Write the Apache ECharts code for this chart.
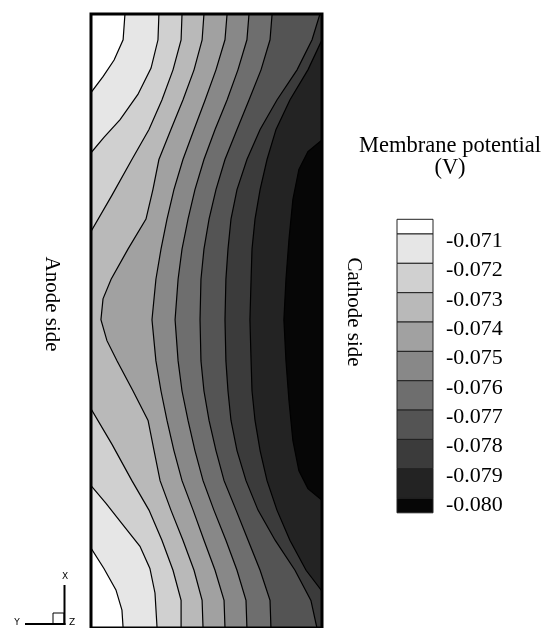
<!DOCTYPE html>
<html>
<head>
<meta charset="utf-8">
<title>Membrane potential</title>
<script src="https://cdn.jsdelivr.net/npm/echarts@6.0.0/dist/echarts.min.js"></script>
<style>
  html, body { margin: 0; padding: 0; background: #fff; }
  #main { width: 543px; height: 628px; }
</style>
</head>
<body>
<div id="main"></div>
<script>
// contour levels (V) and legend labels
var levels = [-0.071, -0.072, -0.073, -0.074, -0.075, -0.076, -0.077, -0.078, -0.079, -0.080];
var levelLabels = ['-0.071', '-0.072', '-0.073', '-0.074', '-0.075', '-0.076', '-0.077', '-0.078', '-0.079', '-0.080'];
// flood colours, from above -0.071 down to below -0.080
var bandColors = ['#ffffff', '#e6e6e6', '#d0d0d0', '#b9b9b9', '#a1a1a1', '#888888',
                  '#6e6e6e', '#545454', '#3b3b3b', '#232323', '#060606'];

// contour lines, points are [across (anode 0 -> cathode 1), along (bottom 0 -> top 1)]
var line071 = [[0.147, 1.000], [0.139, 0.958], [0.100, 0.925], [0.052, 0.898], [0.000, 0.872],
               [0.000, 0.130], [0.056, 0.097], [0.108, 0.062], [0.134, 0.029], [0.139, 0.000]];
var line072 = [[0.294, 1.000], [0.290, 0.958], [0.260, 0.912], [0.203, 0.869], [0.126, 0.828], [0.056, 0.799], [0.000, 0.774],
               [0.000, 0.232], [0.065, 0.203], [0.134, 0.170], [0.212, 0.133], [0.255, 0.097], [0.277, 0.057], [0.286, 0.000]];
var line073 = [[0.394, 1.000], [0.390, 0.958], [0.355, 0.909], [0.307, 0.860], [0.251, 0.812], [0.177, 0.763], [0.091, 0.705], [0.000, 0.646],
               [0.000, 0.357], [0.091, 0.299], [0.177, 0.240], [0.251, 0.192], [0.307, 0.143], [0.355, 0.094], [0.390, 0.045], [0.390, 0.000]];
var line074 = [[0.489, 1.000], [0.481, 0.958], [0.446, 0.909], [0.398, 0.860], [0.346, 0.812], [0.294, 0.763], [0.268, 0.714], [0.238, 0.666],
               [0.160, 0.617], [0.087, 0.568], [0.052, 0.536], [0.043, 0.502], [0.069, 0.468], [0.113, 0.435], [0.182, 0.386], [0.247, 0.338],
               [0.273, 0.289], [0.299, 0.240], [0.346, 0.192], [0.398, 0.143], [0.446, 0.094], [0.481, 0.045], [0.485, 0.000]];
var line075 = [[0.589, 1.000], [0.580, 0.958], [0.541, 0.909], [0.494, 0.860], [0.446, 0.812], [0.398, 0.763], [0.359, 0.714], [0.329, 0.666],
               [0.303, 0.617], [0.281, 0.568], [0.264, 0.502], [0.281, 0.435], [0.303, 0.386], [0.329, 0.338], [0.359, 0.289], [0.394, 0.240],
               [0.442, 0.192], [0.489, 0.143], [0.537, 0.094], [0.576, 0.045], [0.580, 0.000]];
var line076 = [[0.684, 1.000], [0.675, 0.958], [0.636, 0.909], [0.589, 0.860], [0.537, 0.812], [0.489, 0.763], [0.450, 0.714], [0.420, 0.666],
               [0.394, 0.617], [0.377, 0.568], [0.364, 0.502], [0.377, 0.435], [0.394, 0.386], [0.420, 0.338], [0.450, 0.289], [0.485, 0.240],
               [0.532, 0.192], [0.584, 0.143], [0.632, 0.094], [0.671, 0.045], [0.675, 0.000]];
var line077 = [[0.784, 1.000], [0.775, 0.958], [0.736, 0.909], [0.684, 0.860], [0.632, 0.812], [0.580, 0.763], [0.541, 0.714], [0.511, 0.666],
               [0.489, 0.617], [0.476, 0.568], [0.472, 0.502], [0.476, 0.435], [0.489, 0.386], [0.511, 0.338], [0.541, 0.289], [0.576, 0.240],
               [0.628, 0.192], [0.680, 0.143], [0.732, 0.094], [0.775, 0.045], [0.779, 0.000]];
var line078 = [[0.991, 1.000], [0.957, 0.958], [0.892, 0.909], [0.805, 0.860], [0.732, 0.812], [0.675, 0.763], [0.632, 0.714], [0.606, 0.666],
               [0.593, 0.617], [0.584, 0.568], [0.580, 0.502], [0.584, 0.435], [0.593, 0.386], [0.606, 0.338], [0.632, 0.289], [0.671, 0.240],
               [0.723, 0.192], [0.797, 0.143], [0.883, 0.094], [0.952, 0.045], [0.978, 0.000]];
var line079 = [[1.000, 0.958], [0.939, 0.909], [0.861, 0.860], [0.801, 0.812], [0.762, 0.763], [0.732, 0.714], [0.710, 0.666], [0.697, 0.617],
               [0.693, 0.568], [0.688, 0.502], [0.693, 0.435], [0.697, 0.386], [0.710, 0.338], [0.732, 0.289], [0.762, 0.240], [0.805, 0.192],
               [0.861, 0.143], [0.931, 0.094], [1.000, 0.060]];
var line080 = [[1.000, 0.795], [0.939, 0.776], [0.900, 0.747], [0.874, 0.698], [0.857, 0.633], [0.844, 0.568], [0.835, 0.502],
               [0.844, 0.435], [0.857, 0.370], [0.874, 0.305], [0.900, 0.256], [0.939, 0.227], [1.000, 0.208]];

var contourLines = [line071, line072, line073, line074, line075, line076, line077, line078, line079, line080];

// legend boxes: [from, to, colour index] in level index units, white box above first level, black box below last
var legendBoxes = [[-0.5, 0, 0], [0, 1, 1], [1, 2, 2], [2, 3, 3], [3, 4, 4], [4, 5, 5],
                   [5, 6, 6], [6, 7, 7], [7, 8, 8], [8, 9, 9], [9, 9.5, 10]];
var labelOffset = 0.24;

var serif = 'Liberation Serif';
var chart = echarts.init(document.getElementById('main'), null, { renderer: 'canvas' });

// region past each contour line is flooded with the next band colour
function renderContour(params, api) {
  var idx = params.dataIndex;
  var pts = contourLines[idx];
  var first = pts[0];
  var last = pts[pts.length - 1];
  var line = pts.map(function (p) { return api.coord(p); });
  var area = line.concat([api.coord([1, last[1]]), api.coord([1, first[1]])]);
  return {
    type: 'group',
    children: [
      { type: 'polygon', shape: { points: area }, style: { fill: bandColors[idx + 1] } },
      { type: 'polyline', shape: { points: line }, style: { fill: null, stroke: '#000', lineWidth: 1.2 } }
    ]
  };
}

function renderBox(params, api) {
  var a = api.coord([0, api.value(0)]);
  var b = api.coord([1, api.value(1)]);
  return {
    type: 'rect',
    shape: { x: a[0], y: a[1], width: b[0] - a[0], height: b[1] - a[1] },
    style: { fill: bandColors[api.value(2)], stroke: '#222', lineWidth: 1 }
  };
}

var option = {
  animation: false,
  backgroundColor: '#fff',
  title: {
    text: 'Membrane potential\n(V)',
    left: 445,
    top: 130,
    textAlign: 'center',
    textStyle: { fontFamily: serif, fontSize: 22.5, fontWeight: 'normal', color: '#000', lineHeight: 22 }
  },
  grid: [
    { left: 91, top: 14, width: 231, height: 616, show: true, borderColor: '#000', borderWidth: 3, z: 10 },
    { left: 397, top: 219.3, width: 36, height: 293.5 }
  ],
  xAxis: [
    { type: 'value', gridIndex: 0, min: 0, max: 1, show: false },
    { type: 'value', gridIndex: 1, min: 0, max: 1, show: false }
  ],
  yAxis: [
    { type: 'value', gridIndex: 0, min: 0, max: 1, show: false },
    {
      type: 'value', gridIndex: 1, min: -0.5, max: 9.5, inverse: true, position: 'right',
      axisLine: { show: false }, axisTick: { show: false }, splitLine: { show: false },
      axisLabel: {
        customValues: levels.map(function (v, i) { return i + labelOffset; }),
        formatter: function (v) { return levelLabels[Math.round(v - labelOffset)]; },
        margin: 13,
        fontFamily: serif, fontSize: 22, color: '#000'
      }
    }
  ],
  series: [
    {
      type: 'custom', xAxisIndex: 0, yAxisIndex: 0, clip: true,
      renderItem: renderContour,
      data: contourLines.map(function (l, i) { return [i]; })
    },
    {
      type: 'custom', xAxisIndex: 1, yAxisIndex: 1,
      renderItem: renderBox,
      data: legendBoxes
    }
  ],
  graphic: [
    { type: 'text', x: 52, y: 304, rotation: -Math.PI / 2,
      style: { text: 'Anode side', font: '21px "Liberation Serif"', fill: '#000', align: 'center', verticalAlign: 'middle' } },
    { type: 'text', x: 354, y: 312, rotation: -Math.PI / 2,
      style: { text: 'Cathode side', font: '21px "Liberation Serif"', fill: '#000', align: 'center', verticalAlign: 'middle' } },
    // coordinate triad
    { type: 'line', shape: { x1: 64.5, y1: 585, x2: 64.5, y2: 625 }, style: { stroke: '#000', lineWidth: 2 } },
    { type: 'line', shape: { x1: 25, y1: 624, x2: 65.5, y2: 624 }, style: { stroke: '#000', lineWidth: 2 } },
    { type: 'rect', shape: { x: 53, y: 613, width: 11, height: 11 }, style: { fill: null, stroke: '#000', lineWidth: 1 } },
    { type: 'text', x: 65, y: 577, style: { text: 'X', font: '9px "DejaVu Sans"', fill: '#000', align: 'center', verticalAlign: 'middle' } },
    { type: 'text', x: 17, y: 623, style: { text: 'Y', font: '9px "DejaVu Sans"', fill: '#000', align: 'center', verticalAlign: 'middle' } },
    { type: 'text', x: 72, y: 623, style: { text: 'Z', font: '9px "DejaVu Sans"', fill: '#000', align: 'center', verticalAlign: 'middle' } }
  ]
};

chart.setOption(option);
</script>
</body>
</html>
